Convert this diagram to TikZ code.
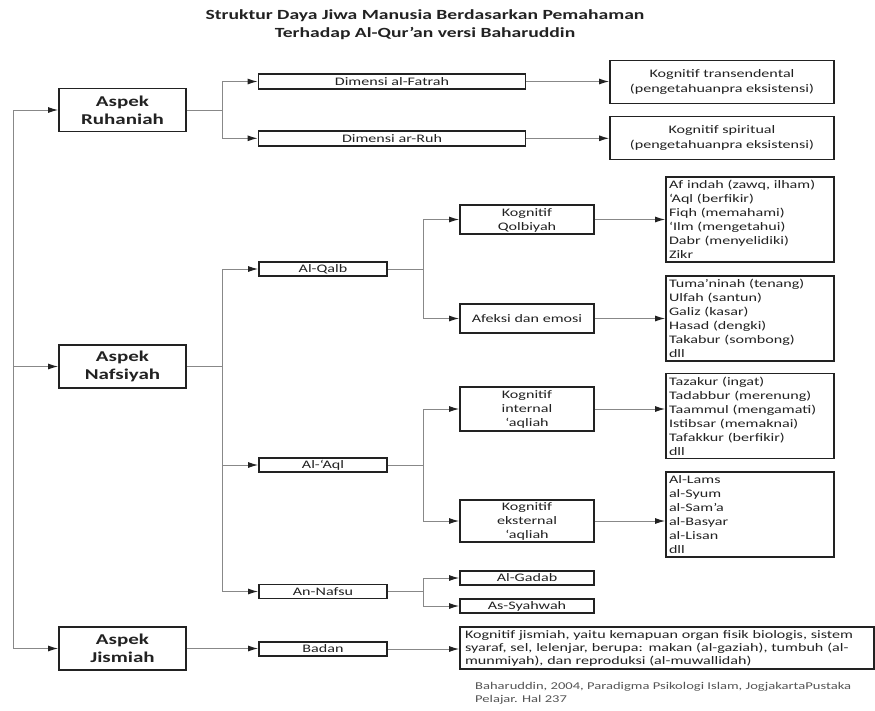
\documentclass[tikz,border=0pt]{standalone}
\usepackage{fontspec}
\setmainfont{Carlito}[FakeStretch=1.4]
\usetikzlibrary{arrows.meta,calc}

\definecolor{ink}{HTML}{222222}
\definecolor{wirecol}{HTML}{888888}
\definecolor{notecol}{HTML}{555555}

\tikzset{
  frame/.style={draw=ink, line width=1.9pt, inner sep=0pt, text=ink,
                font=\fontsize{11.5}{14}\selectfont},
  % text box sizes that keep capital letters centred in the frame
  oneline/.style={text height=9pt, text depth=1.6pt},
  twolines/.style={align=center, text height=23pt, text depth=1.6pt},
  threelines/.style={align=center, text height=37pt, text depth=1.6pt},
  aspek/.style={frame, align=center, minimum width=127pt, minimum height=43pt,
                font=\bfseries\fontsize{15}{17.8}\selectfont},
  dimbox/.style={frame, oneline, minimum width=267pt, minimum height=15pt},
  knowbox/.style={frame, align=center, minimum width=224pt, minimum height=43pt,
                  font=\fontsize{11.5}{14.4}\selectfont},
  midbox/.style={frame, oneline, minimum width=128pt, minimum height=14pt},
  subbox/.style={frame, minimum width=134pt},
  listbox/.style={frame, minimum width=168pt, minimum height=85pt, align=left,
                  text width=162pt, inner xsep=3pt, font=\fontsize{11.5}{14}\selectfont},
  bigbox/.style={frame, minimum width=414pt, minimum height=42pt, align=left,
                 text width=404pt, inner xsep=5pt, font=\fontsize{11.5}{13}\selectfont},
  link/.style={draw=wirecol, line width=1pt},
  arrowlink/.style={link, -{Latex[length=10pt,width=6pt,color=ink]}}
}

\begin{document}
\begin{tikzpicture}[x=1pt, y=-1pt]
\useasboundingbox[fill=white] (0,0) rectangle (875,710);

% heading
\node[text=ink, align=center, font=\bfseries\fontsize{14}{17.6}\selectfont] (title) at (425,24.5)
  {Struktur Daya Jiwa Manusia Berdasarkan Pemahaman\\Terhadap Al-Qur’an versi Baharuddin};

% three aspects
\node[aspek] (ruh) at (122.5,110) {Aspek\\Ruhaniah};
\node[aspek] (naf) at (122.5,366.5) {Aspek\\Nafsiyah};
\node[aspek] (jis) at (122.5,648.5) {Aspek\\Jismiah};

% ruhaniah branch
\node[dimbox] (fatrah) at (392,81.5) {Dimensi al-Fatrah};
\node[dimbox] (arruh) at (392,138.3) {Dimensi ar-Ruh};
\node[knowbox] (ktrans) at (722,82) {Kognitif transendental\\(pengetahuanpra eksistensi)};
\node[knowbox] (kspir) at (722,138) {Kognitif spiritual\\(pengetahuanpra eksistensi)};

% nafsiyah branch
\node[midbox] (qalb) at (323,269) {Al-Qalb};
\node[midbox] (aql) at (323,465) {Al-‘Aql};
\node[midbox] (nafsu) at (323,591.5) {An-Nafsu};

\node[subbox, twolines, minimum height=29pt] (kq) at (527,219.5) {Kognitif\\Qolbiyah};
\node[subbox, oneline, minimum height=29pt] (afeksi) at (527,318.5) {Afeksi dan emosi};
\node[subbox, threelines, minimum height=44pt] (kint) at (527,409) {Kognitif\\internal\\‘aqliah};
\node[subbox, threelines, minimum height=42pt] (keks) at (527,521) {Kognitif\\eksternal\\‘aqliah};
\node[subbox, oneline, minimum height=14pt] (gadab) at (527,578) {Al-Gadab};
\node[subbox, oneline, minimum height=14pt] (syahwah) at (527,606) {As-Syahwah};

\node[listbox] (list1) at (750,219.5) {Af indah (zawq, ilham)\\‘Aql (berfikir)\\Fiqh (memahami)\\‘Ilm (mengetahui)\\Dabr (menyelidiki)\\Zikr};
\node[listbox] (list2) at (750,318.5) {Tuma’ninah (tenang)\\Ulfah (santun)\\Galiz (kasar)\\Hasad (dengki)\\Takabur (sombong)\\dll};
\node[listbox] (list3) at (750,416) {Tazakur (ingat)\\Tadabbur (merenung)\\Taammul (mengamati)\\Istibsar (memaknai)\\Tafakkur (berfikir)\\dll};
\node[listbox] (list4) at (750,514.5) {Al-Lams\\al-Syum\\al-Sam’a\\al-Basyar\\al-Lisan\\dll};

% jismiah branch
\node[midbox] (badan) at (323,649) {Badan};
\node[bigbox] (body) at (667,648) {Kognitif jismiah, yaitu kemapuan organ fisik biologis, sistem\\syaraf, sel, lelenjar, berupa: makan (al-gaziah), tumbuh (al-\\munmiyah), dan reproduksi (al-muwallidah)};

% source note
\node[anchor=north west, inner sep=0pt, align=left, text=notecol,
      font=\fontsize{10.4}{12.6}\selectfont] (src) at (475,682)
  {Baharuddin, 2004, Paradigma Psikologi Islam, JogjakartaPustaka\\Pelajar. Hal 237};

% trunk feeding the three aspects
\coordinate (trunk) at (13,110);
\draw[arrowlink] (trunk |- jis.west) |- (ruh.west);
\draw[arrowlink] (trunk |- naf.west) -- (naf.west);
\draw[arrowlink] (trunk |- jis.west) -- (jis.west);

% ruhaniah fork
\coordinate (fr) at ($(ruh.east)!0.5!(fatrah.west |- ruh.east)$);
\draw[link] (ruh.east) -- (fr);
\draw[arrowlink] (fr) |- (fatrah.west);
\draw[arrowlink] (fr) |- (arruh.west);
\draw[arrowlink] (fatrah.east) -- (fatrah.east -| ktrans.west);
\draw[arrowlink] (arruh.east) -- (arruh.east -| kspir.west);

% nafsiyah fork
\coordinate (fn) at ($(naf.east)!0.5!(qalb.west |- naf.east)$);
\draw[link] (naf.east) -- (fn);
\draw[arrowlink] (fn) |- (qalb.west);
\draw[arrowlink] (fn) |- (aql.west);
\draw[arrowlink] (fn) |- (nafsu.west);

% al-qalb fork
\coordinate (fq) at ($(qalb.east)!0.5!(kq.west |- qalb.east)$);
\draw[link] (qalb.east) -- (fq);
\draw[arrowlink] (fq) |- (kq.west);
\draw[arrowlink] (fq) |- (afeksi.west);
\draw[arrowlink] (kq.east) -- (kq.east -| list1.west);
\draw[arrowlink] (afeksi.east) -- (afeksi.east -| list2.west);

% al-aql fork
\coordinate (fa) at ($(aql.east)!0.5!(kint.west |- aql.east)$);
\draw[link] (aql.east) -- (fa);
\draw[arrowlink] (fa) |- (kint.west);
\draw[arrowlink] (fa) |- (keks.west);
\draw[arrowlink] (kint.east) -- (kint.east -| list3.west);
\draw[arrowlink] (keks.east) -- (keks.east -| list4.west);

% an-nafsu fork
\coordinate (fs) at ($(nafsu.east)!0.5!(gadab.west |- nafsu.east)$);
\draw[link] (nafsu.east) -- (fs);
\draw[arrowlink] (fs) |- (gadab.west);
\draw[arrowlink] (fs) |- (syahwah.west);

% jismiah chain
\draw[arrowlink] (jis.east) -- (jis.east -| badan.west);
\draw[arrowlink] (badan.east) -- (badan.east -| body.west);
\end{tikzpicture}
\end{document}
